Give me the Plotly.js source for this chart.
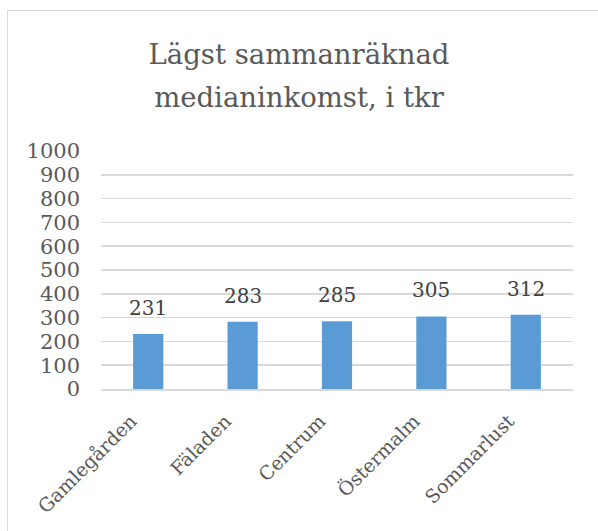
<!DOCTYPE html>
<html><head><meta charset="utf-8">
<script src="https://cdn.plot.ly/plotly-3.0.1.min.js"></script>
<style>html,body{margin:0;padding:0;background:#fff;}#frame{position:absolute;left:7px;top:10px;width:600px;height:530px;border:1px solid #d9d9d9;box-sizing:border-box;}#chart{position:absolute;left:0;top:0;width:598px;height:531px;}</style>
</head><body>
<div id="frame"></div>
<div id="chart"></div>
<script>
const categories = ["Gamlegården", "Fäladen", "Centrum", "Östermalm", "Sommarlust"];
const values = [231, 283, 285, 305, 312];
const yTicks = [0, 100, 200, 300, 400, 500, 600, 700, 800, 900, 1000];
const titleLines = ["Lägst sammanräknad", "medianinkomst, i tkr"];
const font = "'DejaVu Serif', serif";
const labels = categories.map((c, i) => ({
  x: c, y: values[i], xref: 'x', yref: 'y', text: String(values[i]),
  showarrow: false, yanchor: 'bottom', yshift: 12,
  font: {family: font, size: 20, color: '#404040'}
}));
Plotly.newPlot('chart', [{
  type: 'bar', x: categories, y: values,
  marker: {color: '#5b9bd5'},
  hoverinfo: 'none'
}], {
  width: 598, height: 531,
  paper_bgcolor: 'rgba(0,0,0,0)', plot_bgcolor: 'rgba(0,0,0,0)',
  margin: {l: 101, r: 25, t: 151, b: 142},
  bargap: 0.68,
  showlegend: false,
  annotations: labels,
  title: {text: titleLines.map(t => '<span style="font-size:27.5px">' + t + '</span>').join('<br>'), font: {family: font, size: 33, color: '#595959'}, x: 0.5, xanchor: 'center', y: 0.879, yanchor: 'top'},
  xaxis: {tickangle: -45, tickfont: {family: font, size: 19, color: '#595959'}, showline: true, linecolor: '#d9d9d9', linewidth: 1.5, showgrid: false, ticks: '', ticklabelstandoff: 12, ticklabelshift: -17},
  yaxis: {range: [0, 1000], tickvals: yTicks, ticktext: yTicks.map(String), tickfont: {family: font, size: 21, color: '#595959'}, gridcolor: '#d9d9d9', gridwidth: 1.5, zeroline: false, showline: false, ticks: '', ticklabelstandoff: 20}
}, {displayModeBar: false, staticPlot: true});
</script>
</body></html>
